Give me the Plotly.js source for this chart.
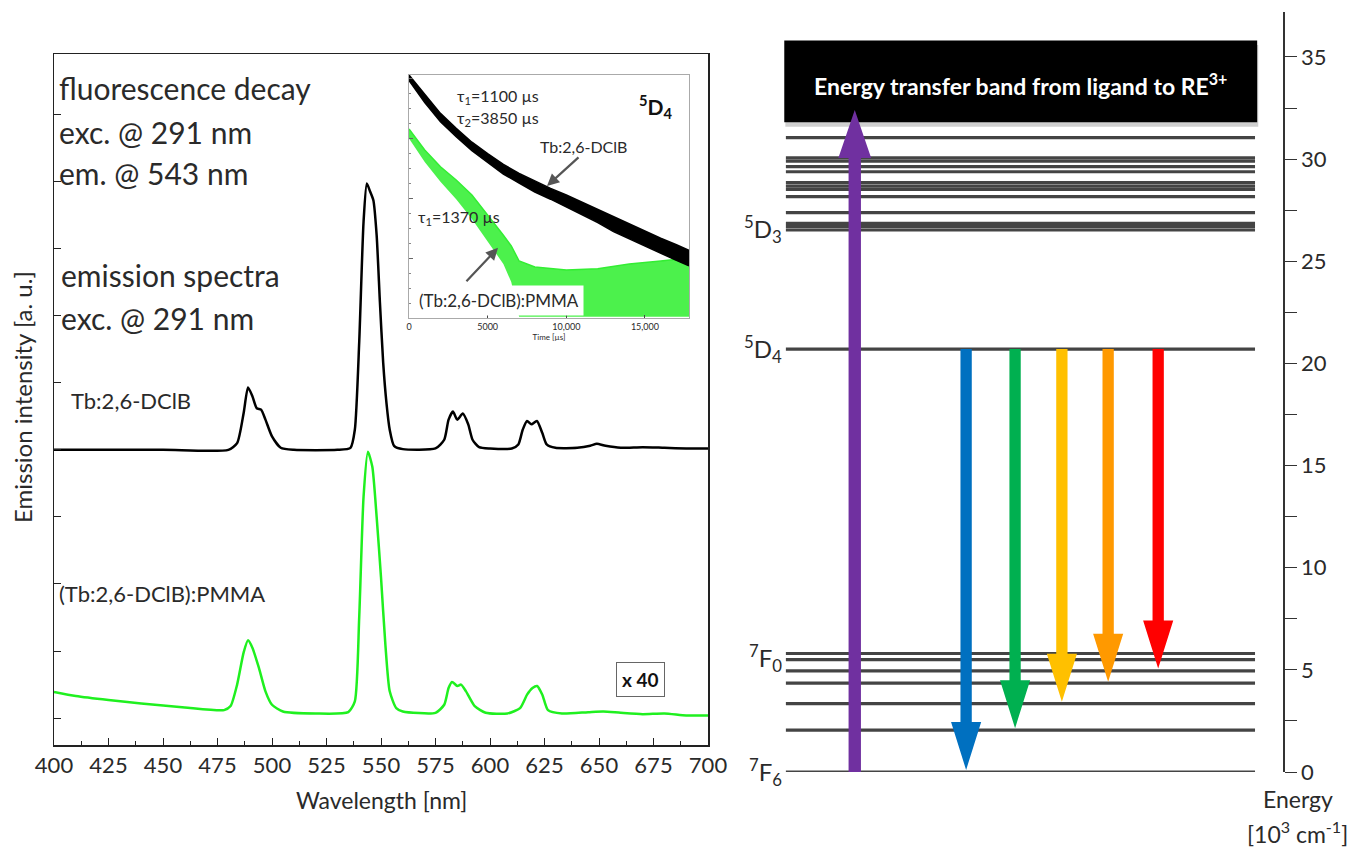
<!DOCTYPE html>
<html><head><meta charset="utf-8">
<script src="https://cdn.plot.ly/plotly-3.0.1.min.js"></script>
<style>html,body{margin:0;padding:0;background:#fff}#chart{width:1357px;height:847px}</style>
</head><body><div id="chart"></div>
<script>
// ---------- Emission spectra (a.u.) ----------
const wlBlack = [400,450,480,484,487,489,491,493,495,497,500,504,510,530,536,538,540,542,543.5,545,546.5,548,549.5,551,552.5,554,556,560,575,579,581,583,585,587.5,590,592,595,600,610,613,615,617,619,621.5,624,626,630,640,646,649,653,660,670,680,690,700];
const intBlack = [4.0,4.0,4.0,4.1,4.55,4.93,4.8,4.62,4.6,4.45,4.2,4.03,4.0,4.0,4.03,4.3,5.6,7.4,7.97,7.85,7.72,7.2,6.2,5.3,4.7,4.3,4.06,4.01,4.02,4.15,4.45,4.57,4.45,4.54,4.38,4.15,4.04,4.02,4.02,4.08,4.3,4.43,4.38,4.43,4.25,4.08,4.03,4.03,4.06,4.09,4.06,4.03,4.04,4.03,4.02,4.02];
const wlGreen = [400,410,425,440,460,478,481,484,487,489,491,494,497,500,505,520,535,538,540,542,544,546,548,550,552,554,557,560,575,579,581,582.6,585,586.7,589,593,598,608,613.8,617,619.5,621.6,624,626.6,633,645,652,660,670,680,690,700];
const intGreen = [0.39,0.33,0.27,0.22,0.16,0.12,0.18,0.5,0.98,1.16,1.05,0.75,0.4,0.2,0.1,0.07,0.09,0.25,1.5,3.3,3.97,3.75,3.0,2.1,1.1,0.4,0.15,0.1,0.08,0.2,0.45,0.54,0.48,0.5,0.4,0.18,0.08,0.07,0.15,0.35,0.45,0.48,0.35,0.12,0.07,0.09,0.1,0.08,0.06,0.07,0.04,0.04];

// ---------- Inset: fluorescence decay (log10 counts) ----------
const decayTime = [0,1000,2000,3000,4000,5000,6000,7000,8000,9000,10000,11000,12000,13000,14000,15000,16000,17000,17800];
const blackUpper = [4.05,3.73,3.41,3.16,2.93,2.74,2.56,2.41,2.28,2.16,2.05,1.93,1.81,1.68,1.56,1.45,1.33,1.22,1.13];
const blackLower = [3.96,3.59,3.27,3.02,2.79,2.60,2.40,2.25,2.10,1.98,1.85,1.73,1.59,1.44,1.32,1.19,1.07,0.96,0.87];
const greenTime  = [0,1000,2000,3000,4000,5000,6000,6500,7000,8000,10000,12000,14000,16000,17800];
const greenUpper = [3.15,2.80,2.52,2.30,2.05,1.72,1.38,1.20,0.95,0.85,0.80,0.82,0.90,0.95,1.00];
const greenLower = [2.99,2.60,2.27,1.98,1.65,1.27,0.90,0.60,0.02,0.02,0.02,0.02,0.02,0.02,0.02];
const insetTickVals = [0,5000,10000,15000];
const insetTickText = ['0','5000','10,000','15,000'];

// ---------- Energy level diagram (10^3 cm^-1) ----------
const levelEnergies = [31.05,30.06,29.9,29.63,29.38,28.85,28.68,28.52,28.16,27.38,26.85,26.69,26.53,20.7,5.8,5.5,4.95,4.35,3.35,2.05,0];
const bandRange = [31.8,35.8];
const levelLabels = ['<sup>5</sup>D<sub>3</sub>','<sup>5</sup>D<sub>4</sub>','<sup>7</sup>F<sub>0</sub>','<sup>7</sup>F<sub>6</sub>'];
const levelLabelE = [26.6,20.7,5.6,0];
const arrowX = [20.4,41.1,50.2,58.9,67.5,76.8];
const arrowFrom = [0,20.7,20.7,20.7,20.7,20.7];
const arrowTo = [32.4,0.1,2.14,3.44,4.42,5.07];
const arrowColors = ['#7030a0','#0070c0','#00b050','#ffc000','#ff9900','#ff0000'];
const energyTicks = [0,5,10,15,20,25,30,35];

const W = 1357, H = 847;
const px = x => x / W, py = y => 1 - y / H;
const FONT = 'Lato, "Open Sans", sans-serif';
const TXT = '#2a2a2a';

const traces = [
  {x: wlBlack, y: intBlack, type:'scatter', mode:'lines', line:{color:'#000', width:2.5, shape:'spline', smoothing:0.6}, xaxis:'x', yaxis:'y', hoverinfo:'skip'},
  {x: wlGreen, y: intGreen, type:'scatter', mode:'lines', line:{color:'#1ff01f', width:2.5, shape:'spline', smoothing:0.6}, xaxis:'x', yaxis:'y', hoverinfo:'skip'},
  {x: greenTime, y: greenLower, type:'scatter', mode:'lines', line:{width:0, color:'#3f3'}, xaxis:'x3', yaxis:'y3'},
  {x: greenTime, y: greenUpper, type:'scatter', mode:'lines', fill:'tonexty', fillcolor:'rgba(45,238,45,0.85)', line:{width:1.5, color:'#33ee33'}, xaxis:'x3', yaxis:'y3'},
  {x: decayTime, y: blackLower, type:'scatter', mode:'lines', line:{width:1.5, color:'#000'}, xaxis:'x3', yaxis:'y3'},
  {x: decayTime, y: blackUpper, type:'scatter', mode:'lines', fill:'tonexty', fillcolor:'#000', line:{width:1.5, color:'#000'}, xaxis:'x3', yaxis:'y3'}
];

const shapes = [];
shapes.push({type:'rect', xref:'x2', yref:'y2', x0:7.5, x1:95.4, y0:bandRange[0]-0.22, y1:bandRange[1]-0.22, fillcolor:'#cfcfcf', line:{width:0}});
shapes.push({type:'rect', xref:'x2', yref:'y2', x0:7.3, x1:95.2, y0:bandRange[0], y1:bandRange[1], fillcolor:'#000', line:{width:0}});
levelEnergies.forEach(e => shapes.push({type:'line', xref:'x2', yref:'y2', x0:7.6, x1:94.8, y0:e, y1:e, line:{color:'#444', width:3.2}}));
const headLen = 2.35;
arrowX.forEach((x,i) => {
  const y0 = arrowFrom[i], y1 = arrowTo[i];
  const s = Math.sign(y1 - y0);
  const hs = y1 - s*headLen;
  const sh = i === 0 ? 1.15 : 1.05, hh = i === 0 ? 3.05 : 2.8;
  const path = `M ${x-sh},${y0} L ${x-sh},${hs} L ${x-hh},${hs} L ${x},${y1} L ${x+hh},${hs} L ${x+sh},${hs} L ${x+sh},${y0} Z`;
  shapes.push({type:'path', xref:'x2', yref:'y2', path, fillcolor:arrowColors[i], line:{width:0}});
});

const ann = [];
const txt = (text, x, y, size, extra) => ann.push(Object.assign({text, x:px(x), y:py(y), xref:'paper', yref:'paper', xanchor:'left', yanchor:'middle', showarrow:false, font:{family:FONT, size, color:TXT}}, extra||{}));
txt('fluorescence decay', 57, 88, 30);
txt('exc. @ 291 nm', 57, 132, 30);
txt('em. @ 543 nm', 57, 173, 30);
txt('emission spectra', 59, 275, 30);
txt('exc. @ 291 nm', 59, 318, 30);
txt('Tb:2,6-DClB', 69, 400, 22);
txt('(Tb:2,6-DClB):PMMA', 57, 593, 22);
txt('Emission intensity [a. u.]', 22, 397, 24, {xanchor:'center', textangle:-90});
txt('Wavelength [nm]', 381, 800, 23, {xanchor:'center'});
ann.push({text:'<b>x 40</b>', x:px(640), y:py(679), xref:'paper', yref:'paper', xanchor:'center', yanchor:'middle', showarrow:false, font:{family:FONT, size:19, color:'#111'}, bordercolor:'#666', borderwidth:1, borderpad:5, bgcolor:'#fff'});
// inset texts
txt('τ<sub>1</sub>=1100 µs', 455, 97, 16);
txt('τ<sub>2</sub>=3850 µs', 455, 118, 16);
txt('<b><sup>5</sup>D<sub>4</sub></b>', 637, 106, 21, {font:{family:FONT, size:21, color:'#111'}});
txt('Tb:2,6-DClB', 538, 147, 16);
txt('τ<sub>1</sub>=1370 µs', 416, 217, 16);
txt('(Tb:2,6-DClB):PMMA', 414, 300, 17, {bgcolor:'#fff', borderpad:4});
ann.push({x:8773, y:2.2, xref:'x3', yref:'y3', ax:33, ay:-30, text:'', showarrow:true, arrowhead:2, arrowsize:1.1, arrowwidth:2.2, arrowcolor:'#555'});
ann.push({x:5660, y:1.17, xref:'x3', yref:'y3', ax:-33, ay:35, text:'', showarrow:true, arrowhead:2, arrowsize:1.1, arrowwidth:2.2, arrowcolor:'#555'});
// box text
ann.push({text:'<b>Energy transfer band from ligand to RE<sup>3+</sup></b>', x:51.2, y:(bandRange[0]+bandRange[1])/2-0.15, xref:'x2', yref:'y2', xanchor:'center', yanchor:'middle', showarrow:false, font:{family:FONT, size:23, color:'#fff'}});
levelLabels.forEach((t,i) => ann.push({text:t, x:7.2, y:levelLabelE[i], xref:'x2', yref:'y2', xanchor:'right', yanchor:'middle', showarrow:false, font:{family:FONT, size:24, color:TXT}}));
txt('Energy', 1298, 799, 23, {xanchor:'center'});
txt('[10<sup>3</sup> cm<sup>-1</sup>]', 1297, 832, 23, {xanchor:'center'});

const layout = {
  width:W, height:H, margin:{l:0,r:0,t:0,b:0}, showlegend:false,
  paper_bgcolor:'#fff', plot_bgcolor:'rgba(0,0,0,0)',
  font:{family:FONT, color:TXT},
  xaxis:{domain:[px(54), px(708)], range:[400,700], tickvals:[400,425,450,475,500,525,550,575,600,625,650,675,700], ticks:'inside', ticklen:7, tickcolor:'#222', minor:{dtick:12.5, tick0:400, ticks:'inside', ticklen:4, tickcolor:'#222'}, showline:true, linecolor:'#222', linewidth:1.5, mirror:true, showgrid:false, zeroline:false, tickfont:{size:22, color:TXT}, anchor:'y'},
  yaxis:{domain:[py(745), py(54)], range:[-0.4,9.9], dtick:1, tick0:0, ticks:'inside', ticklen:7, tickcolor:'#222', showticklabels:false, showline:true, linecolor:'#222', linewidth:1.5, mirror:true, showgrid:false, zeroline:false, anchor:'x'},
  xaxis2:{domain:[px(745), px(1283)], range:[0,100], visible:false, anchor:'y2'},
  yaxis2:{domain:[py(772), py(12)], range:[0,37.2], side:'right', anchor:'x2', tickvals:energyTicks, ticks:'outside', ticklen:12, tickcolor:'#333', minor:{dtick:2.5, ticks:'outside', ticklen:12, tickcolor:'#333'}, showline:true, linecolor:'#333', linewidth:1.5, showgrid:false, zeroline:false, tickfont:{size:22, color:TXT}},
  xaxis3:{domain:[px(409), px(689)], range:[0,17800], tickvals:insetTickVals, ticktext:insetTickText, ticks:'inside', ticklen:3, tickcolor:'#444', showline:true, linecolor:'#aaa', mirror:true, showgrid:false, zeroline:false, tickfont:{size:9, color:TXT}, title:{text:'Time [µs]', font:{size:8, color:TXT}, standoff:2}, anchor:'y3'},
  yaxis3:{domain:[py(318), py(75)], range:[0,4.05], dtick:1, ticks:'inside', ticklen:4, tickcolor:'#666', minor:{dtick:0.25, ticks:'inside', ticklen:2, tickcolor:'#888'}, showticklabels:false, showline:true, linecolor:'#aaa', mirror:true, showgrid:false, zeroline:false, anchor:'x3'},
  shapes, annotations:ann
};
Plotly.newPlot('chart', traces, layout, {staticPlot:true, displayModeBar:false});
</script></body></html>
